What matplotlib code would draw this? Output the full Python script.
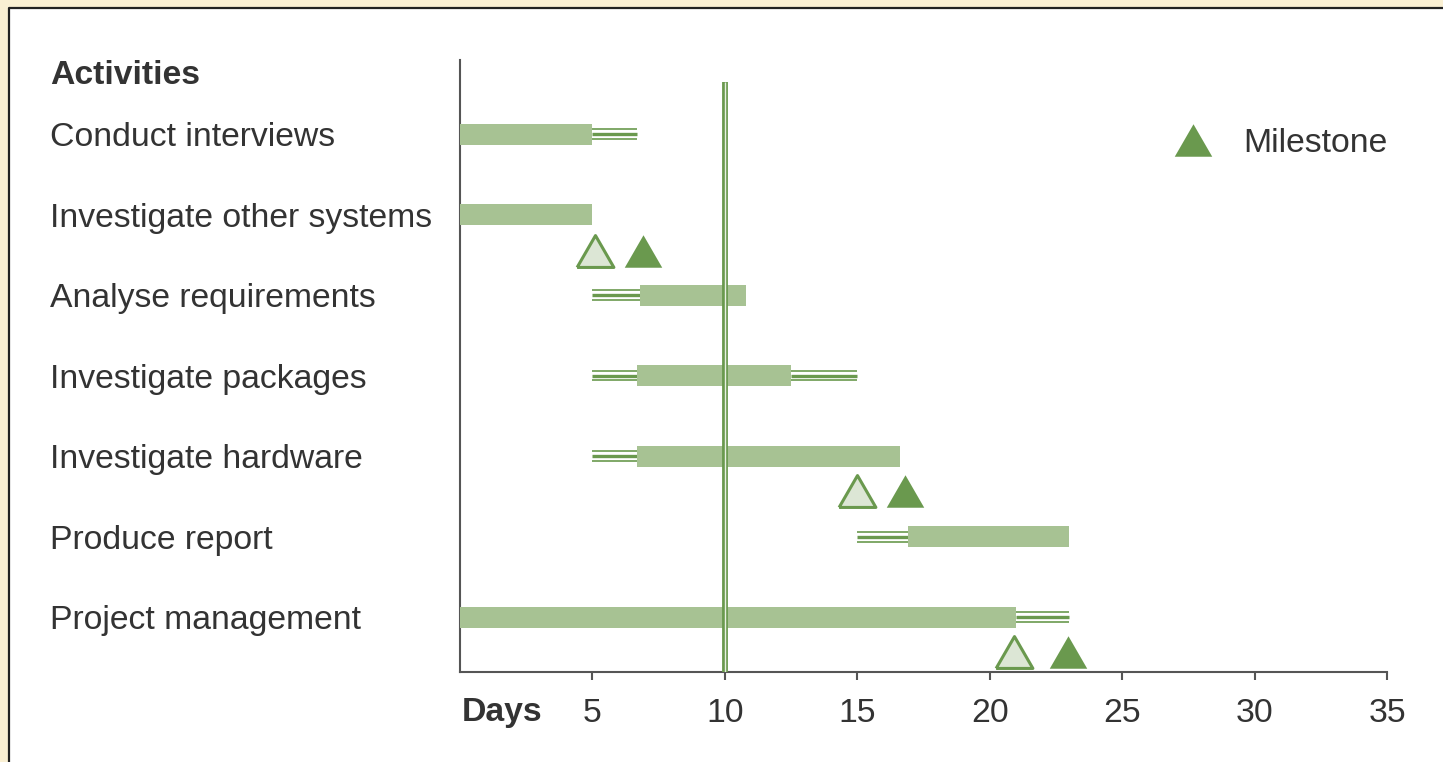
import matplotlib
matplotlib.use("Agg")
import matplotlib.pyplot as plt
from matplotlib.patches import Rectangle
from matplotlib.lines import Line2D
from matplotlib.transforms import blended_transform_factory

plt.rcParams['font.family'] = ['Liberation Sans', 'DejaVu Sans']

# ---- data -------------------------------------------------------------
activities = [
    "Conduct interviews",
    "Investigate other systems",
    "Analyse requirements",
    "Investigate packages",
    "Investigate hardware",
    "Produce report",
    "Project management",
]
task_start = [0, 0, 6.8, 6.7, 6.7, 16.9, 0]
task_end = [5, 5, 10.8, 12.5, 16.6, 23, 21]

# slack (float) segments: row, from, to
float_row = [0, 2, 3, 3, 4, 5, 6]
float_from = [5, 5, 5, 12.5, 5, 15, 21]
float_to = [6.7, 6.8, 6.7, 15, 6.7, 16.9, 23]

# milestones: planned (open) and achieved (filled)
milestone_row = [1.45, 4.43, 6.43]
milestone_planned = [5.1, 15.0, 20.9]
milestone_actual = [6.9, 16.8, 22.95]

today = 10
x_ticks = [5, 10, 15, 20, 25, 30, 35]

# ---- styling ----------------------------------------------------------
BAR = "#a7c293"
DARK = "#6a994e"
PALE = "#dce6d5"
TEXT = "#333333"
AXIS = "#555555"
FS = 24.3
W, H, DPI = 1443, 762, 100

fig = plt.figure(figsize=(W / DPI, H / DPI), dpi=DPI, facecolor="#faf0d3")

# white panel with a dark rule on its left and top edges
panel_l, panel_t = 8.5 / W, 1 - 8 / H
fig.patches.append(Rectangle((panel_l, 0), 1 - panel_l, panel_t, transform=fig.transFigure,
                             facecolor="white", edgecolor="none", zorder=-2))
fig.lines.append(Line2D([panel_l, panel_l, 1], [0, panel_t, panel_t], transform=fig.transFigure,
                        color="#222222", lw=1.6, zorder=-1))

ax = fig.add_axes([460 / W, (H - 672) / H, (1387 - 460) / W, (672 - 60) / H])
ax.set_facecolor("none")
ax.set_xlim(0, 35)
ax.set_ylim(6.68, -0.92)

px_per_row = 80.45
def row_px(p):
    return p / px_per_row

# activity bars
bar_h = row_px(21)
for i in range(len(activities)):
    ax.barh(i, task_end[i] - task_start[i], left=task_start[i], height=bar_h,
            color=BAR, edgecolor="none", zorder=3)

# slack drawn as a triple rule
for r, a, b in zip(float_row, float_from, float_to):
    ax.hlines(r, a, b, color=DARK, lw=2.4, zorder=2)
    for off in (-4.8, 4.8):
        ax.hlines(r + row_px(off), a, b, color=DARK, lw=1.2, zorder=2)

# status line
ax.vlines(today, -0.646, 6.68, color=DARK, lw=4.2, zorder=4)
ax.vlines(today, -0.646, 6.68, color="#e8f0e2", lw=1.0, zorder=5)

# milestone markers (equilateral triangles)
tri = [(-1, -0.866), (1, -0.866), (0, 0.866), (-1, -0.866)]
ax.plot(milestone_planned, milestone_row, linestyle="none", marker=tri, markersize=26.5,
        markerfacecolor=PALE, markeredgecolor=DARK, markeredgewidth=2.2, zorder=6, clip_on=False)
ax.plot(milestone_actual, milestone_row, linestyle="none", marker=tri, markersize=27,
        markerfacecolor=DARK, markeredgecolor="none", zorder=6, clip_on=False)

# legend
ax.plot([27.67], [0.075], linestyle="none", marker=tri, markersize=27,
        markerfacecolor=DARK, markeredgecolor="none", zorder=6)
ax.text(29.56, 0.075 + row_px(3), "Milestone", fontsize=FS, color=TEXT, ha="left", va="center")

# axes frame
for s in ("top", "right"):
    ax.spines[s].set_visible(False)
for s in ("left", "bottom"):
    ax.spines[s].set_color(AXIS)
    ax.spines[s].set_linewidth(1.5)
ax.set_yticks([])
ax.set_xticks(x_ticks)
ax.set_xticklabels([str(t) for t in x_ticks])
ax.tick_params(axis="x", direction="out", length=6, width=1.5, color=AXIS,
               labelsize=FS, labelcolor=TEXT, pad=12.5)

# row labels in figure x, data y
lab_tr = blended_transform_factory(fig.transFigure, ax.transData)
ax.text(50 / W, -0.8 + row_px(6), "Activities", transform=lab_tr, fontsize=FS,
        fontweight="bold", color=TEXT, ha="left", va="center")
for i, name in enumerate(activities):
    ax.text(50 / W, i + row_px(3.5), name, transform=lab_tr, fontsize=FS, color=TEXT,
            ha="left", va="center")

ax.annotate("Days", xy=(0, 0), xycoords=("data", "axes fraction"), xytext=(2, -40),
            textcoords="offset pixels", fontsize=FS, fontweight="bold", color=TEXT,
            ha="left", va="center")

fig.savefig("out.png", dpi=DPI, facecolor=fig.get_facecolor())
